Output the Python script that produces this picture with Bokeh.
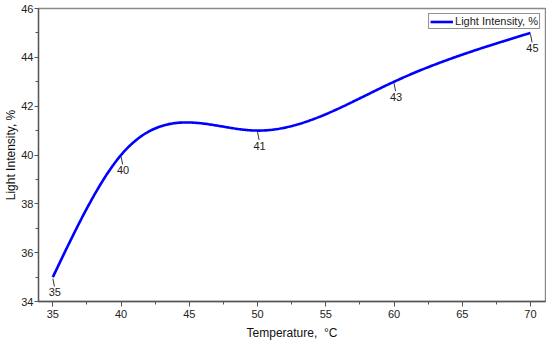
import numpy as np
from bokeh.plotting import figure
from bokeh.models import Range1d, Legend, LegendItem, FixedTicker
from bokeh.embed import file_html
from bokeh.resources import INLINE
from bokeh.core.properties import value

# Data
temperature = [35, 40, 50, 60, 70]
intensity = [35, 40, 41, 43, 45]
point_labels = ["35", "40", "41", "43", "45"]
x_ticks = [35, 40, 45, 50, 55, 60, 65, 70]
y_ticks = [34, 36, 38, 40, 42, 44, 46]


def natural_cubic_spline(x, y, xs):
    x = np.asarray(x, float)
    y = np.asarray(y, float)
    n = len(x)
    h = np.diff(x)
    A = np.zeros((n, n))
    b = np.zeros(n)
    A[0, 0] = 1
    A[-1, -1] = 1
    for i in range(1, n - 1):
        A[i, i - 1] = h[i - 1]
        A[i, i] = 2 * (h[i - 1] + h[i])
        A[i, i + 1] = h[i]
        b[i] = 6 * ((y[i + 1] - y[i]) / h[i] - (y[i] - y[i - 1]) / h[i - 1])
    M = np.linalg.solve(A, b)
    out = np.empty_like(xs)
    for k, xv in enumerate(xs):
        i = min(max(np.searchsorted(x, xv) - 1, 0), n - 2)
        t1 = x[i + 1] - xv
        t0 = xv - x[i]
        hi = h[i]
        out[k] = (M[i] * t1 ** 3 / (6 * hi) + M[i + 1] * t0 ** 3 / (6 * hi)
                  + (y[i] / hi - M[i] * hi / 6) * t1
                  + (y[i + 1] / hi - M[i + 1] * hi / 6) * t0)
    return out


W, H = 546, 342
BL, BR, BT, BB = 38, 1, 8, 40
x0, x1 = 33.95, 71.1
y0, y1 = 34, 46
ppx = (W - BL - BR) / (x1 - x0)
ppy = (H - BT - BB) / (y1 - y0)

FONT = "Liberation Sans"

p = figure(width=W, height=H, output_backend="svg", toolbar_location=None,
           x_range=Range1d(x0, x1), y_range=Range1d(y0, y1),
           min_border_left=BL, min_border_right=BR, min_border_top=BT,
           min_border_bottom=BB)
p.xgrid.visible = False
p.ygrid.visible = False
p.outline_line_color = "#8a8a8a"
p.outline_line_width = 1.4
p.background_fill_color = "white"
p.border_fill_color = "white"

xs = np.linspace(temperature[0], temperature[-1], 400)
ys = natural_cubic_spline(temperature, intensity, xs)
curve = p.line(xs, ys, line_color="#0000FF", line_width=2.6)

# leader lines and labels
tx = np.array(temperature, float)
ty = np.array(intensity, float)
p.segment(x0=tx, y0=ty - 1.5 / ppy, x1=tx + 1.6 / ppx, y1=ty - 9.5 / ppy,
          line_color="#333333", line_width=1)
p.text(x=tx, y=ty, text=point_labels, x_offset=2, y_offset=11,
       text_align="center", text_baseline="top", text_font=value(FONT),
       text_font_size="11px", text_color="#222222")

for ax in (p.xaxis[0], p.yaxis[0]):
    ax.axis_line_color = "#555555"
    ax.axis_line_width = 1.3
    ax.major_tick_line_color = "#555555"
    ax.minor_tick_line_color = "#555555"
    ax.major_tick_in = 0
    ax.major_tick_out = 5
    ax.minor_tick_in = 0
    ax.minor_tick_out = 3
    ax.major_label_text_font = FONT
    ax.major_label_text_font_size = "11px"
    ax.major_label_text_color = "#222222"
    ax.major_label_standoff = 3
    ax.axis_label_text_font = FONT
    ax.axis_label_text_font_size = "12px"
    ax.axis_label_text_font_style = "normal"
    ax.axis_label_text_color = "#111111"

p.xaxis[0].ticker = FixedTicker(ticks=x_ticks, minor_ticks=[t + 2.5 for t in x_ticks[:-1]])
p.yaxis[0].ticker = FixedTicker(ticks=y_ticks, minor_ticks=[t + 1 for t in y_ticks[:-1]])
p.xaxis.axis_label = "Temperature,\u00a0 \u00b0C"
p.xaxis.axis_label_standoff = 5
p.yaxis.axis_label = "Light Intensity, %"
p.yaxis.axis_label_standoff = 0
p.yaxis.major_label_standoff = 1
p.yaxis.major_tick_out = 4

legend = Legend(items=[LegendItem(label="Light Intensity, %", renderers=[curve])],
                location="top_right", border_line_color="#222222",
                border_line_width=1, padding=1, margin=5, label_standoff=2,
                glyph_width=23, glyph_height=11, label_height=11,
                label_text_font=FONT, label_text_font_size="11px",
                label_text_color="#222222", spacing=0,
                background_fill_alpha=1)
p.add_layout(legend)

open("out.html", "w").write(file_html(p, INLINE))
